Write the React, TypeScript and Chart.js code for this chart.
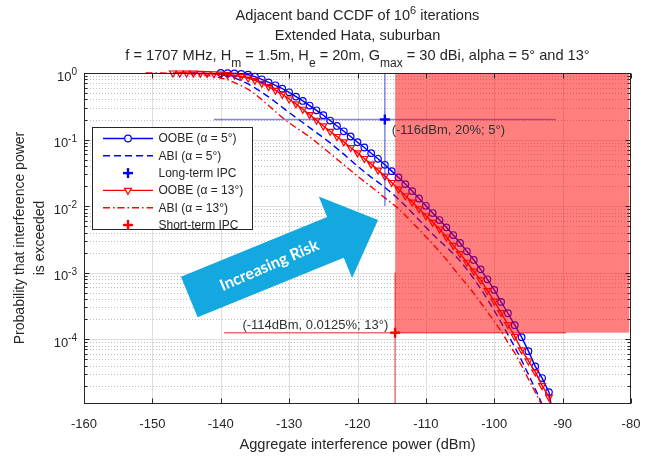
import { useEffect, useRef } from 'react';
import { Chart, registerables } from 'chart.js';

Chart.register(...registerables);

// Aggregate interference power samples (dBm), 1 dB steps
const powerDbm = [
  -151, -150, -149, -148, -147, -146, -145, -144, -143, -142, -141,
  -140, -139, -138, -137, -136, -135, -134, -133, -132, -131,
  -130, -129, -128, -127, -126, -125, -124, -123, -122, -121,
  -120, -119, -118, -117, -116, -115, -114, -113, -112, -111,
  -110, -109, -108, -107, -106, -105, -104, -103, -102, -101,
  -100, -99, -98, -97, -96, -95, -94, -93, -92, -91,
];

// CCDF: probability that the interference power is exceeded
const oobeAlpha5 = [
  null, null, null, null, null, null, null, null, null, null, null,
  1, 0.991, 0.982, 0.97, 0.944, 0.881, 0.804, 0.724, 0.653, 0.582,
  0.513, 0.442, 0.38, 0.324, 0.275, 0.232, 0.193, 0.16, 0.133, 0.111,
  0.0912, 0.0759, 0.0624, 0.0513, 0.0417, 0.0335, 0.0269, 0.0214, 0.0168, 0.013,
  0.0101, 0.00785, 0.00617, 0.00479, 0.00367, 0.00279, 0.00209, 0.00155, 0.00112, 7.94e-4,
  5.5e-4, 3.63e-4, 2.45e-4, 1.62e-4, 1.07e-4, 6.6e-5, 3.9e-5, 2.6e-5, 1.6e-5, 4e-6,
];

const abiAlpha5 = [
  null, null, null, null, null, 1, 1, 0.998, 0.993, 0.986, 0.973,
  0.951, 0.912, 0.847, 0.767, 0.684, 0.596, 0.513, 0.437, 0.367, 0.305,
  0.254, 0.214, 0.18, 0.151, 0.127, 0.107, 0.0891, 0.0733, 0.0603, 0.049,
  0.0398, 0.0327, 0.0272, 0.0229, 0.0191, 0.0157, 0.0127, 0.0101, 0.00794, 0.00617,
  0.00479, 0.00376, 0.00302, 0.00243, 0.00193, 0.0015, 0.00112, 8.1e-4, 5.75e-4, 3.98e-4,
  2.69e-4, 1.78e-4, 1.17e-4, 7.6e-5, 4.8e-5, 2.95e-5, 1.78e-5, 1.05e-5, 3e-6, null,
];

const oobeAlpha13 = [
  null, null, null, null, 1, 1, 0.998, 0.995, 0.989, 0.982, 0.973,
  0.959, 0.944, 0.923, 0.891, 0.841, 0.776, 0.7, 0.624, 0.55, 0.479,
  0.407, 0.343, 0.285, 0.237, 0.195, 0.16, 0.133, 0.111, 0.0923, 0.0759,
  0.0631, 0.0519, 0.0427, 0.0347, 0.0282, 0.0226, 0.018, 0.0143, 0.0115, 0.00912,
  0.00716, 0.00569, 0.00452, 0.00343, 0.00257, 0.00193, 0.00143, 0.00105, 7.76e-4, 5.37e-4,
  3.72e-4, 2.51e-4, 1.66e-4, 1.1e-4, 6.9e-5, 4.7e-5, 3.2e-5, 2.0e-5, 1.35e-5, 4e-6,
];

const abiAlpha13 = [
  1, 1, 0.998, 0.995, 0.993, 0.989, 0.982, 0.968, 0.951, 0.923, 0.887,
  0.841, 0.794, 0.716, 0.646, 0.569, 0.484, 0.398, 0.324, 0.263, 0.214,
  0.178, 0.151, 0.129, 0.11, 0.0912, 0.075, 0.0617, 0.0507, 0.0417, 0.0343,
  0.0282, 0.0234, 0.0195, 0.0162, 0.0133, 0.0111, 0.00912, 0.00724, 0.00569, 0.00447,
  0.00347, 0.00269, 0.00207, 0.00158, 0.00117, 8.7e-4, 6.6e-4, 4.9e-4, 3.55e-4, 2.57e-4,
  1.86e-4, 1.32e-4, 8.9e-5, 6.2e-5, 4.0e-5, 2.5e-5, 1.6e-5, 1.0e-5, 3e-6, null,
];

// Axes
const xRange = [-160, -80];
const yRange = [1.06e-5, 1];
const xTickValues = [-160, -150, -140, -130, -120, -110, -100, -90, -80];
const yDecadeValues = [1, 1e-1, 1e-2, 1e-3, 1e-4];
const yDecadeExponents = ['0', '-1', '-2', '-3', '-4'];

// Interference protection criteria: long-term (5°) and short-term (13°)
const ipcPowerDbm = [-116, -114.5];
const ipcProbability = [0.2, 1.25e-4];
const ipcHorizontalSpan = [[-141, -91], [-139.5, -89.5]];
const ipcVerticalSpan = [[1, 0.01], [1e-3, 1e-5]];
const ipcLineColors = ['rgba(30,30,220,0.55)', 'rgba(205,20,20,0.6)'];
const ipcMarkerColors = ['#0000ff', '#ff0000'];
const ipcLabels = ['(-116dBm, 20%; 5°)', '(-114dBm, 0.0125%; 13°)'];
const ipcLabelAnchors = [[-115, 0.139], [-115.5, 1.59e-4]];
const ipcLabelAlign: CanvasTextAlign[] = ['left', 'right'];

// Zone exceeding both criteria
const riskPowerDbm = [-114.5, -80.25];
const riskProbability = [1.25e-4, 1];

// Block arrow annotation
const arrowFrom = [-144.6, 4.3e-4];
const arrowTo = [-117, 6.2e-3];
const arrowText = 'Increasing Risk';

const FONT = '"Liberation Sans", Arial, Helvetica, sans-serif';
const INK = '#262626';
const CLIP = { left: 0, top: 8, right: 0, bottom: 0 };

type Seg = { t: string; s?: 'sub' | 'sup' };

const titleLines: Seg[][] = [
  [{ t: 'Adjacent band CCDF of 10' }, { t: '6', s: 'sup' }, { t: ' iterations' }],
  [{ t: 'Extended Hata, suburban' }],
  [
    { t: 'f = 1707 MHz, H' }, { t: 'm', s: 'sub' }, { t: ' = 1.5m, H' }, { t: 'e', s: 'sub' },
    { t: ' = 20m, G' }, { t: 'max', s: 'sub' }, { t: ' = 30 dBi, alpha = 5° and 13°' },
  ],
];
const xAxisTitle = 'Aggregate interference power (dBm)';
const yAxisTitle = ['Probability that interference power', 'is exceeded'];

function points(values: (number | null)[]) {
  const out: { x: number; y: number }[] = [];
  values.forEach((v, i) => {
    if (v !== null) out.push({ x: powerDbm[i], y: v });
  });
  return out;
}

function drawRich(
  ctx: CanvasRenderingContext2D, segs: Seg[], x: number, baseline: number,
  size: number, small: number, align: 'left' | 'center' | 'right', subDy: number, supDy: number,
) {
  const widths = segs.map((s) => {
    ctx.font = `${s.s ? small : size}px ${FONT}`;
    return ctx.measureText(s.t).width;
  });
  const total = widths.reduce((a, b) => a + b, 0);
  let cx = align === 'left' ? x : align === 'center' ? x - total / 2 : x - total;
  ctx.textAlign = 'left';
  ctx.textBaseline = 'alphabetic';
  segs.forEach((s, i) => {
    ctx.font = `${s.s ? small : size}px ${FONT}`;
    const dy = s.s === 'sub' ? subDy : s.s === 'sup' ? supDy : 0;
    ctx.fillText(s.t, cx, baseline + dy);
    cx += widths[i];
  });
}

function strokeLine(ctx: CanvasRenderingContext2D, x1: number, y1: number, x2: number, y2: number) {
  ctx.beginPath();
  ctx.moveTo(x1, y1);
  ctx.lineTo(x2, y2);
  ctx.stroke();
}

function drawPlus(ctx: CanvasRenderingContext2D, x: number, y: number, color: string) {
  ctx.save();
  ctx.strokeStyle = color;
  ctx.lineWidth = 2.4;
  ctx.setLineDash([]);
  strokeLine(ctx, x - 5, y, x + 5, y);
  strokeLine(ctx, x, y - 5, x, y + 5);
  ctx.restore();
}

function minorValues() {
  const out: number[] = [];
  for (let e = -5; e < 0; e++) {
    for (let k = 2; k <= 9; k++) {
      const v = k * Math.pow(10, e);
      if (v > yRange[0] && v < yRange[1]) out.push(v);
    }
  }
  return out;
}

const decorations = {
  id: 'ccdfDecorations',
  beforeDatasetsDraw(chart: any) {
    const { ctx, chartArea: a } = chart;
    const xs = chart.scales.x;
    const ys = chart.scales.y;
    ctx.save();
    ctx.lineWidth = 1;
    ctx.strokeStyle = 'rgba(38,38,38,0.3)';
    ctx.setLineDash([1, 2]);
    minorValues().forEach((v) => {
      const y = Math.round(ys.getPixelForValue(v)) + 0.5;
      strokeLine(ctx, a.left, y, a.right, y);
    });
    ctx.setLineDash([]);
    ctx.strokeStyle = '#dedede';
    yDecadeValues.forEach((v) => {
      if (v >= yRange[1]) return;
      const y = Math.round(ys.getPixelForValue(v)) + 0.5;
      strokeLine(ctx, a.left, y, a.right, y);
    });
    xTickValues.forEach((v) => {
      if (v <= xRange[0] || v >= xRange[1]) return;
      const x = Math.round(xs.getPixelForValue(v)) + 0.5;
      strokeLine(ctx, x, a.top, x, a.bottom);
    });
    ctx.restore();
  },
  afterDatasetsDraw(chart: any) {
    const { ctx, chartArea: a } = chart;
    const xs = chart.scales.x;
    const ys = chart.scales.y;
    ctx.save();
    ctx.beginPath();
    ctx.rect(a.left, a.top, a.right - a.left, a.bottom - a.top);
    ctx.clip();
    // IPC guide lines
    ipcPowerDbm.forEach((p, i) => {
      ctx.strokeStyle = ipcLineColors[i];
      ctx.lineWidth = 1.5;
      const y = ys.getPixelForValue(ipcProbability[i]);
      strokeLine(ctx, xs.getPixelForValue(ipcHorizontalSpan[i][0]), y, xs.getPixelForValue(ipcHorizontalSpan[i][1]), y);
      const x = xs.getPixelForValue(p);
      strokeLine(ctx, x, ys.getPixelForValue(ipcVerticalSpan[i][0]), x, ys.getPixelForValue(ipcVerticalSpan[i][1]));
    });
    // risk zone
    const rx1 = xs.getPixelForValue(riskPowerDbm[0]);
    const rx2 = xs.getPixelForValue(riskPowerDbm[1]);
    const ry1 = ys.getPixelForValue(riskProbability[1]);
    const ry2 = ys.getPixelForValue(riskProbability[0]);
    ctx.fillStyle = 'rgba(255,0,0,0.5)';
    ctx.fillRect(rx1, ry1, rx2 - rx1, ry2 - ry1);
    ctx.restore();

    // IPC markers and labels
    ipcPowerDbm.forEach((p, i) => {
      drawPlus(ctx, xs.getPixelForValue(p), ys.getPixelForValue(ipcProbability[i]), ipcMarkerColors[i]);
      ctx.save();
      ctx.fillStyle = '#303030';
      ctx.font = `13px ${FONT}`;
      ctx.textAlign = ipcLabelAlign[i];
      ctx.textBaseline = 'middle';
      ctx.fillText(ipcLabels[i], xs.getPixelForValue(ipcLabelAnchors[i][0]), ys.getPixelForValue(ipcLabelAnchors[i][1]));
      ctx.restore();
    });
  },
  afterDraw(chart: any) {
    const { ctx, chartArea: a } = chart;
    const xs = chart.scales.x;
    const ys = chart.scales.y;
    const L = Math.round(a.left) + 0.5;
    const R = Math.round(a.right) - 0.5;
    const T = Math.round(a.top) + 0.5;
    const B = Math.round(a.bottom) - 0.5;
    ctx.save();
    // frame and inward ticks
    ctx.strokeStyle = INK;
    ctx.lineWidth = 1;
    ctx.setLineDash([]);
    ctx.strokeRect(L, T, R - L, B - T);
    xTickValues.forEach((v) => {
      const x = Math.round(xs.getPixelForValue(v)) + 0.5;
      strokeLine(ctx, x, B, x, B - 5);
      strokeLine(ctx, x, T, x, T + 5);
    });
    yDecadeValues.forEach((v) => {
      const y = Math.round(ys.getPixelForValue(v)) + 0.5;
      strokeLine(ctx, L, y, L + 5, y);
      strokeLine(ctx, R, y, R - 5, y);
    });
    minorValues().forEach((v) => {
      const y = Math.round(ys.getPixelForValue(v)) + 0.5;
      strokeLine(ctx, L, y, L + 3, y);
      strokeLine(ctx, R, y, R - 3, y);
    });

    // tick labels
    ctx.fillStyle = INK;
    ctx.font = `13px ${FONT}`;
    ctx.textAlign = 'center';
    ctx.textBaseline = 'alphabetic';
    xTickValues.forEach((v) => {
      ctx.fillText(String(v), xs.getPixelForValue(v), a.bottom + 24);
    });
    yDecadeValues.forEach((v, i) => {
      const y = ys.getPixelForValue(v);
      drawRich(ctx, [{ t: '10' }, { t: yDecadeExponents[i], s: 'sup' }], a.left - 7, y + 7.5, 13, 10, 'right', 0, -5.5);
    });

    // titles
    const cx = (a.left + a.right) / 2;
    [20, 40, 60].forEach((bl, i) => {
      drawRich(ctx, titleLines[i], cx, bl, 14.6, i === 0 ? 11 : 12, 'center', 7, -6);
    });
    ctx.font = `14.6px ${FONT}`;
    ctx.textAlign = 'center';
    ctx.fillText(xAxisTitle, cx, a.bottom + 45);
    const cy = 238;
    ctx.font = `14px ${FONT}`;
    [23.5, 43.5].forEach((bx, i) => {
      ctx.save();
      ctx.translate(bx, cy);
      ctx.rotate(-Math.PI / 2);
      ctx.textAlign = 'center';
      ctx.textBaseline = 'alphabetic';
      ctx.fillText(yAxisTitle[i], 0, 0);
      ctx.restore();
    });

    // legend
    const lx = 92.5, ly = 127.5, lw = 160, lh = 102;
    ctx.fillStyle = '#ffffff';
    ctx.fillRect(lx, ly, lw, lh);
    ctx.strokeStyle = INK;
    ctx.strokeRect(lx, ly, lw, lh);
    const ds = chart.data.datasets;
    const entries = [
      { label: ds[3].label, color: ds[3].borderColor, dash: ds[3].borderDash || [], marker: 'circle' },
      { label: ds[2].label, color: ds[2].borderColor, dash: ds[2].borderDash || [], marker: '' },
      { label: 'Long-term IPC', color: ipcMarkerColors[0], dash: null, marker: 'plus' },
      { label: ds[1].label, color: ds[1].borderColor, dash: ds[1].borderDash || [], marker: 'triangle' },
      { label: ds[0].label, color: ds[0].borderColor, dash: ds[0].borderDash || [], marker: '' },
      { label: 'Short-term IPC', color: ipcMarkerColors[1], dash: null, marker: 'plus' },
    ];
    entries.forEach((e, i) => {
      const y = 138.5 + i * 17.3;
      const mx = 128;
      if (e.dash) {
        ctx.save();
        ctx.strokeStyle = e.color;
        ctx.lineWidth = 1.4;
        ctx.setLineDash(e.dash);
        strokeLine(ctx, 103, y, 153, y);
        ctx.restore();
      }
      ctx.save();
      ctx.strokeStyle = e.color;
      ctx.lineWidth = 1.2;
      if (e.marker === 'circle') {
        ctx.fillStyle = '#fff';
        ctx.beginPath();
        ctx.arc(mx, y, 3.3, 0, Math.PI * 2);
        ctx.fill();
        ctx.stroke();
      } else if (e.marker === 'triangle') {
        ctx.fillStyle = '#fff';
        ctx.beginPath();
        ctx.moveTo(mx, y + 4);
        ctx.lineTo(mx - 3.46, y - 2);
        ctx.lineTo(mx + 3.46, y - 2);
        ctx.closePath();
        ctx.fill();
        ctx.stroke();
      } else if (e.marker === 'plus') {
        drawPlus(ctx, mx, y, e.color);
      }
      ctx.restore();
      ctx.fillStyle = INK;
      ctx.font = `12px ${FONT}`;
      ctx.textAlign = 'left';
      ctx.textBaseline = 'middle';
      ctx.fillText(e.label, 158.5, y + 0.5);
    });

    // block arrow
    const p0 = { x: xs.getPixelForValue(arrowFrom[0]), y: ys.getPixelForValue(arrowFrom[1]) };
    const p1 = { x: xs.getPixelForValue(arrowTo[0]), y: ys.getPixelForValue(arrowTo[1]) };
    const len = Math.hypot(p1.x - p0.x, p1.y - p0.y);
    const ux = (p1.x - p0.x) / len;
    const uy = (p1.y - p0.y) / len;
    const nx = -uy;
    const ny = ux;
    const shaftHalf = 22;
    const headHalf = 44;
    const headLen = 46;
    const bx = p0.x + ux * (len - headLen);
    const by = p0.y + uy * (len - headLen);
    ctx.fillStyle = '#14A8E0';
    ctx.beginPath();
    ctx.moveTo(p0.x + nx * shaftHalf, p0.y + ny * shaftHalf);
    ctx.lineTo(bx + nx * shaftHalf, by + ny * shaftHalf);
    ctx.lineTo(bx + nx * headHalf, by + ny * headHalf);
    ctx.lineTo(p1.x, p1.y);
    ctx.lineTo(bx - nx * headHalf, by - ny * headHalf);
    ctx.lineTo(bx - nx * shaftHalf, by - ny * shaftHalf);
    ctx.lineTo(p0.x - nx * shaftHalf, p0.y - ny * shaftHalf);
    ctx.closePath();
    ctx.fill();
    ctx.save();
    ctx.translate(p0.x + ux * 86, p0.y + uy * 86);
    ctx.rotate(Math.atan2(uy, ux) - 0.02);
    ctx.fillStyle = '#ffffff';
    ctx.font = `bold 16px Lato, "Open Sans", sans-serif`;
    ctx.textAlign = 'center';
    ctx.textBaseline = 'middle';
    ctx.fillText(arrowText, 0, 1);
    ctx.restore();

    ctx.restore();
  },
};

export default function App() {
  const ref = useRef<HTMLCanvasElement>(null);

  useEffect(() => {
    const canvas = ref.current;
    if (!canvas) return;
    const chart = new Chart(canvas, {
      type: 'line',
      data: {
        datasets: [
          {
            label: 'ABI (α = 13°)',
            data: points(abiAlpha13),
            borderColor: '#ff0000',
            borderWidth: 1.4,
            borderDash: [7, 3, 1.5, 3],
            pointRadius: 0,
            clip: CLIP,
          },
          {
            label: 'OOBE (α = 13°)',
            data: points(oobeAlpha13),
            borderColor: '#ff0000',
            borderWidth: 1.4,
            pointStyle: 'triangle',
            rotation: 180,
            pointRadius: 4,
            pointBorderWidth: 1.2,
            pointBorderColor: '#ff0000',
            pointBackgroundColor: 'rgba(0,0,0,0)',
            clip: CLIP,
          },
          {
            label: 'ABI (α = 5°)',
            data: points(abiAlpha5),
            borderColor: '#0000ff',
            borderWidth: 1.4,
            borderDash: [7, 4],
            pointRadius: 0,
            clip: CLIP,
          },
          {
            label: 'OOBE (α = 5°)',
            data: points(oobeAlpha5),
            borderColor: '#0000ff',
            borderWidth: 1.4,
            pointStyle: 'circle',
            pointRadius: 3.3,
            pointBorderWidth: 1.2,
            pointBorderColor: '#0000ff',
            pointBackgroundColor: 'rgba(0,0,0,0)',
            clip: CLIP,
          },
        ],
      } as any,
      options: {
        responsive: true,
        maintainAspectRatio: false,
        animation: false,
        events: [],
        layout: { padding: { left: 84, top: 73, right: 23, bottom: 52 } },
        scales: {
          x: { type: 'linear', min: xRange[0], max: xRange[1], display: false },
          y: { type: 'logarithmic', min: yRange[0], max: yRange[1], display: false },
        },
        plugins: {
          legend: { display: false },
          title: { display: false },
          tooltip: { enabled: false },
        },
      },
      plugins: [decorations as any],
    });
    return () => chart.destroy();
  }, []);

  return (
    <div style={{ position: 'fixed', left: 0, top: 0, width: 654, height: 456, background: '#ffffff' }}>
      <canvas ref={ref} />
    </div>
  );
}
